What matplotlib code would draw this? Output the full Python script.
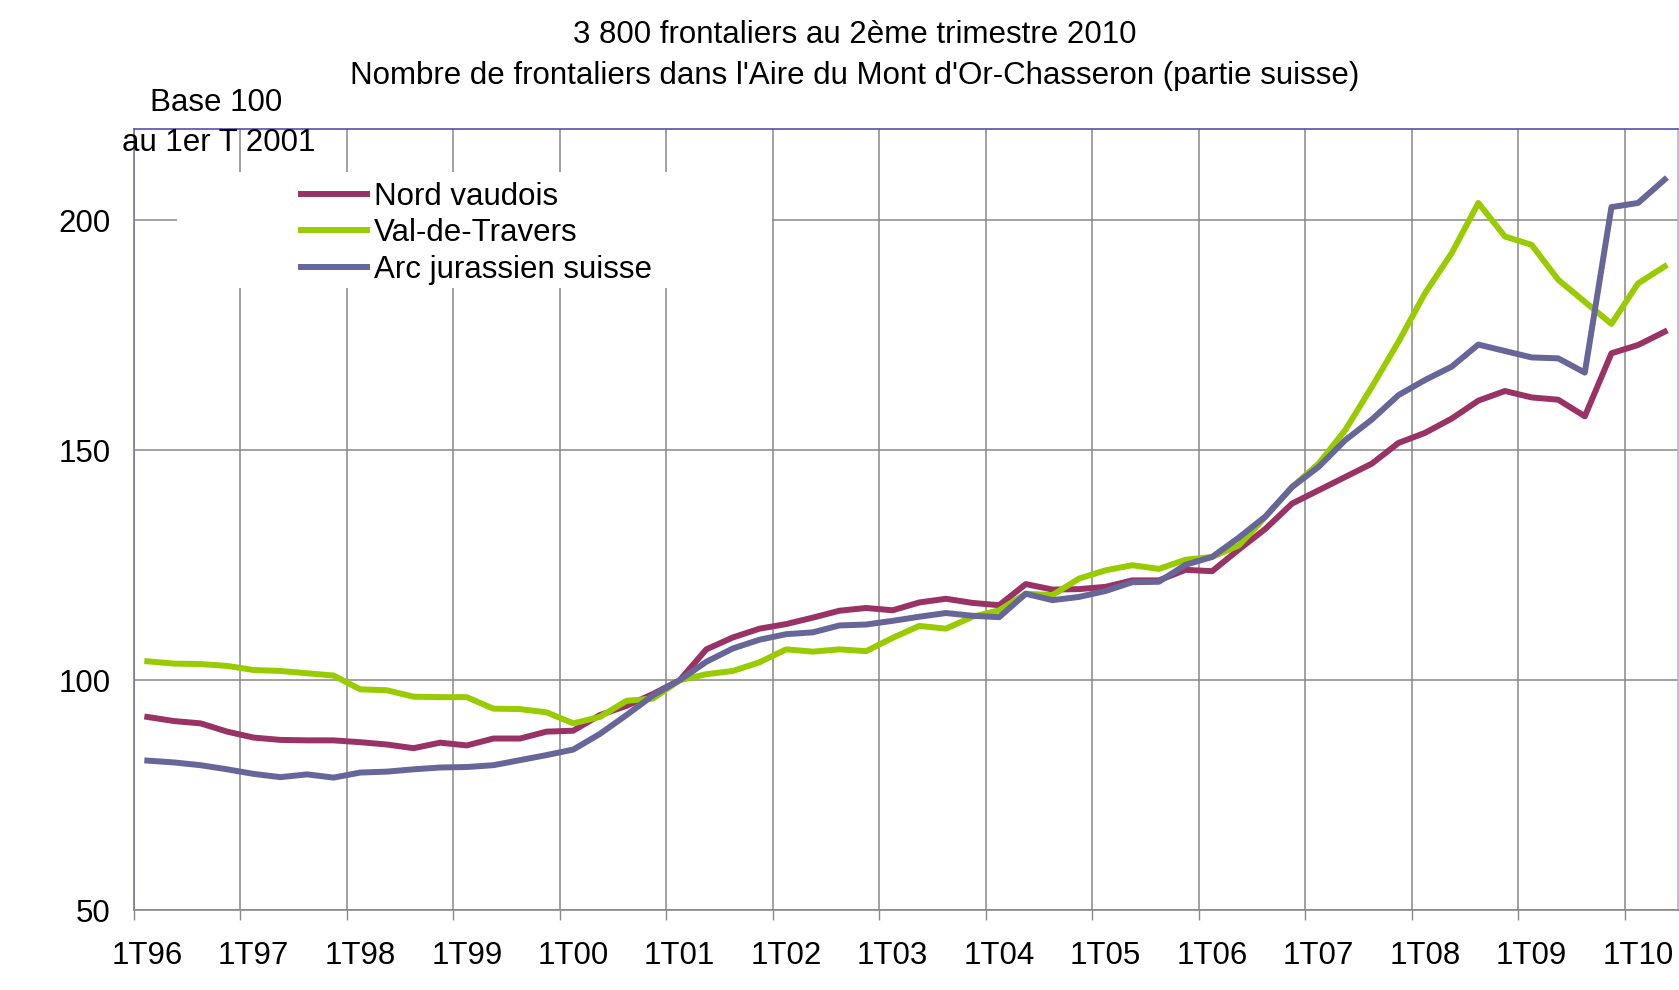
import matplotlib
matplotlib.use("Agg")
import matplotlib.pyplot as plt
from matplotlib.patches import Rectangle

plt.rcParams["font.family"] = ["Liberation Sans", "DejaVu Sans"]

years = ["96", "97", "98", "99", "00", "01", "02", "03", "04", "05", "06", "07", "08", "09", "10"]
year_labels = ["1T" + y for y in years]

# quarterly index, base 100 = 1er trimestre 2001 (1T96 .. 2T10)
nord_vaudois = [
    92.0, 91.1, 90.6, 88.8, 87.5, 87.0, 86.9, 86.9,
    86.5, 86.0, 85.2, 86.4, 85.8, 87.3, 87.3, 88.8,
    89.0, 92.4, 94.4, 97.0, 100.0, 106.7, 109.3, 111.2,
    112.2, 113.6, 115.1, 115.7, 115.2, 116.9, 117.7, 116.8,
    116.3, 120.9, 119.7, 119.8, 120.3, 121.7, 121.7, 124.0,
    123.7, 128.4, 132.9, 138.4, 141.3, 144.2, 147.1, 151.6,
    153.8, 156.9, 160.8, 162.9, 161.5, 161.0, 157.4, 171.1,
    172.9, 175.8,
]
val_de_travers = [
    104.1, 103.6, 103.5, 103.1, 102.2, 102.0, 101.5, 101.0,
    98.0, 97.8, 96.4, 96.3, 96.3, 93.8, 93.7, 93.0,
    90.6, 92.0, 95.5, 96.0, 100.0, 101.3, 102.0, 103.9,
    106.7, 106.2, 106.7, 106.3, 109.2, 111.8, 111.2, 113.8,
    115.2, 118.8, 118.5, 122.1, 123.9, 125.0, 124.2, 126.2,
    126.8, 129.3, 135.5, 142.0, 147.1, 154.4, 163.8, 173.6,
    184.2, 192.9, 203.8, 196.5, 194.7, 187.1, 182.3, 177.5,
    186.3, 190.0,
]
arc_jurassien = [
    82.5, 82.1, 81.5, 80.6, 79.6, 78.9, 79.5, 78.8,
    79.9, 80.1, 80.6, 81.0, 81.1, 81.5, 82.6, 83.7,
    84.9, 88.3, 92.4, 96.7, 100.0, 104.0, 106.9, 108.8,
    110.0, 110.4, 111.9, 112.1, 112.9, 113.8, 114.6, 114.0,
    113.7, 118.8, 117.4, 118.1, 119.4, 121.3, 121.4, 125.1,
    126.8, 131.0, 135.6, 142.0, 146.4, 152.2, 156.7, 162.0,
    165.3, 168.2, 173.0, 171.6, 170.2, 170.0, 166.9, 202.9,
    203.8, 208.9,
]

series = [
    ("Nord vaudois", nord_vaudois, "#993366"),
    ("Val-de-Travers", val_de_travers, "#99cc00"),
    ("Arc jurassien suisse", arc_jurassien, "#666699"),
]

FS = 22.5

fig = plt.figure(figsize=(16.79, 9.9), dpi=100)
ax = fig.add_axes([134 / 1679, 80 / 990, 1544 / 1679, 781.5 / 990])

x = list(range(len(nord_vaudois)))
for name, vals, col in series:
    ax.plot(x, vals, color=col, lw=4.3, label=name, solid_joinstyle="round", zorder=3)

ax.set_xlim(-0.5, len(x) - 0.5)
ax.set_ylim(50, 220)
ax.set_yticks([50, 100, 150, 200])
ax.tick_params(axis="y", length=0, pad=17, labelsize=FS)

year_bounds = [4 * k - 0.5 for k in range(len(years))]
ax.set_xticks(year_bounds, [""] * len(years))
ax.set_xticks([4 * k for k in range(len(years))], year_labels, minor=True)
ax.tick_params(axis="x", which="major", length=7, width=1, color="#888888", direction="out")
ax.tick_params(axis="x", which="minor", length=0, pad=22, labelsize=FS)

ax.set_axisbelow(True)
ax.grid(True, which="major", color="#888888", lw=1.1)

ax.spines["top"].set_color("#5050b8")
ax.spines["right"].set_color("#b0b0e0")
ax.spines["left"].set_color("#7a7a9a")
ax.spines["bottom"].set_color("#888888")
for s in ax.spines.values():
    s.set_linewidth(1.2)

# white area behind the legend hides the grid
ax.add_patch(Rectangle((0.028, 0.796), 0.385, 0.148, transform=ax.transAxes,
                       facecolor="white", edgecolor="none", zorder=1))
leg = ax.legend(loc="upper left", bbox_to_anchor=(0.1001, 0.948), frameon=False,
                fontsize=FS, handlelength=2.1, handletextpad=0.24,
                labelspacing=0.21, borderaxespad=0)

fig.text(0.509, 0.9645, "3 800 frontaliers au 2ème trimestre 2010", ha="center", va="center", fontsize=FS)
fig.text(0.509, 0.9232, "Nombre de frontaliers dans l'Aire du Mont d'Or-Chasseron (partie suisse)",
         ha="center", va="center", fontsize=FS)
fig.text(0.1287, 0.8964, "Base 100", ha="center", va="center", fontsize=FS)
fig.text(0.1304, 0.8556, "au 1er T 2001", ha="center", va="center", fontsize=FS)

fig.savefig("out.png", dpi=100)
